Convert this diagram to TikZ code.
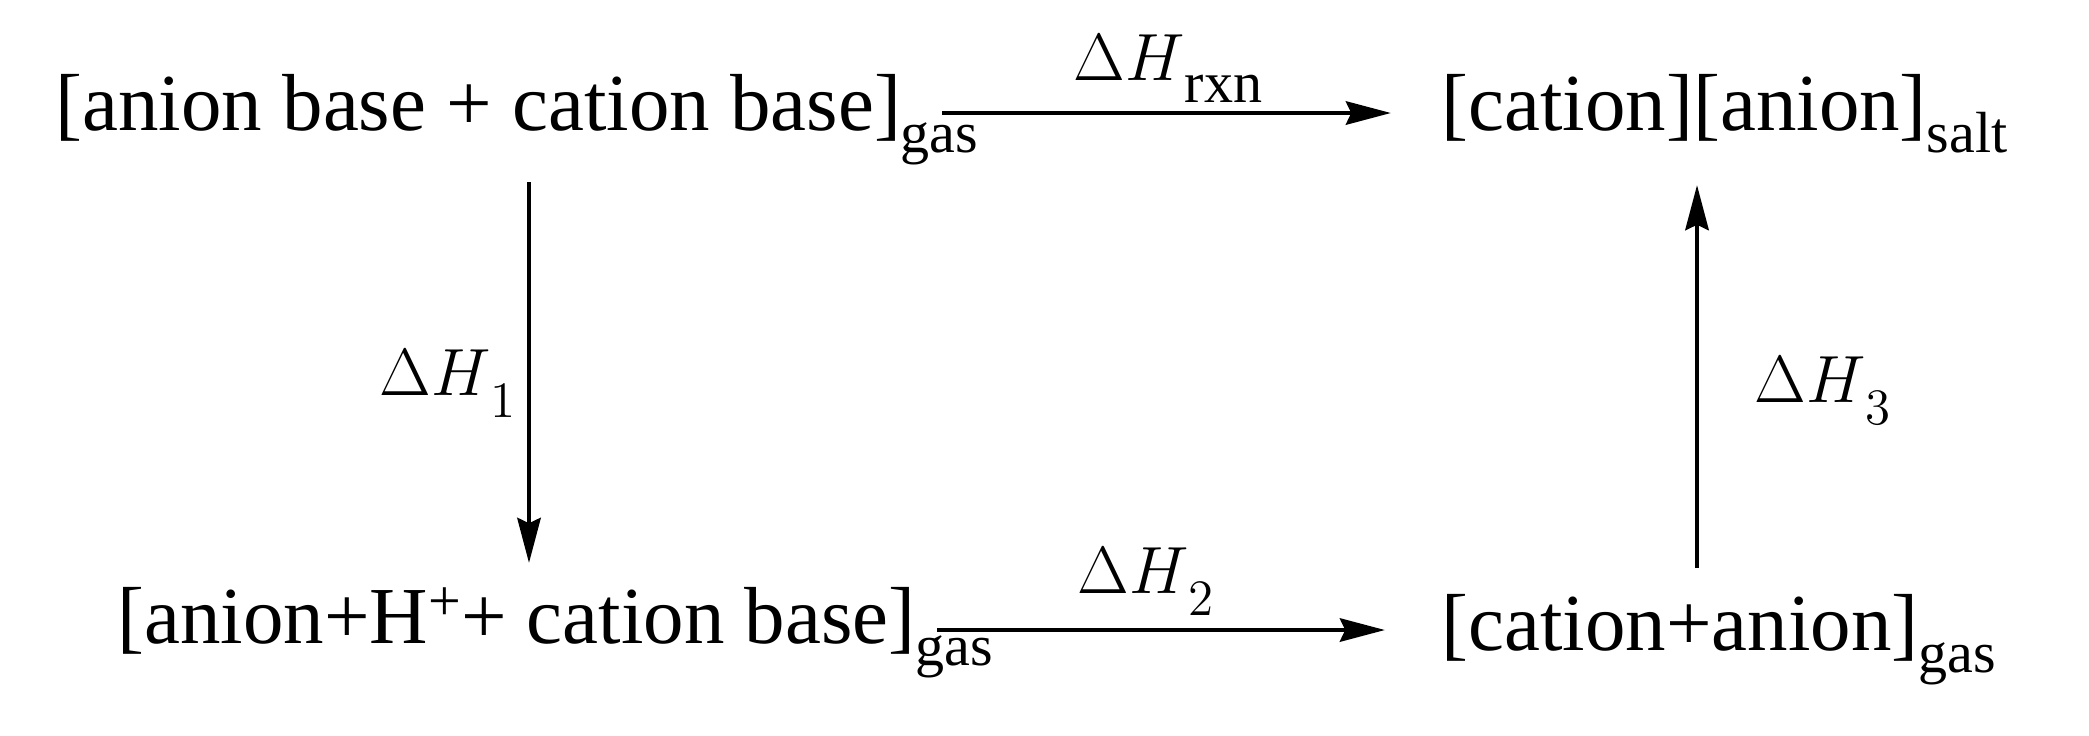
\RequirePackage{fix-cm}
\documentclass[tikz,border=0pt]{standalone}
\usepackage{fontspec}
\setmainfont{Liberation Serif}
\usetikzlibrary{arrows.meta,calc}
\newcommand\tsub[1]{\raisebox{-6.3pt}{\fontsize{16.5}{17}\selectfont #1}}
\newcommand\tsup[1]{\raisebox{6.5pt}{\fontsize{16.5}{17}\selectfont #1}}
\newcommand\msub[1]{\raisebox{-6.3pt}{\fontsize{14.5}{15}\selectfont$#1$}}
\tikzset{
  lbl/.style={anchor=base west, inner sep=0pt, font=\fontsize{23}{27}\selectfont},
  mlbl/.style={anchor=base west, inner sep=0pt, font=\fontsize{19}{23}\selectfont},
  arr/.style={line width=1.4pt, -{Stealth[length=12.8pt,width=6.6pt,inset=1.5pt]}}
}
\begin{document}
\begin{tikzpicture}[x=0.01cm,y=-0.01cm]
\useasboundingbox (0,0) rectangle (2089,735);
\node[lbl] (tl) at (55,130) {[anion base + cation base]\tsub{gas}};
\node[lbl] (tr) at (1441,130) {[cation][anion]\tsub{salt}};
\node[lbl] (bl) at (117,643) {[anion+H\tsup{+}+ cation base]\tsub{gas}};
\node[lbl] (br) at (1441,650) {[cation+anion]\tsub{gas}};
\node[mlbl] (h0) at (1073,80) {$\Delta H$\raisebox{-6.5pt}{\fontsize{16.5}{17}\selectfont rxn}};
\node[mlbl] (h1) at (379,395) {$\Delta H$\msub{1}};
\node[mlbl] (h2) at (1077,593) {$\Delta H$\msub{2}};
\node[mlbl] (h3) at (1754,402) {$\Delta H$\msub{3}};
\draw[arr] ($(tl.base west)+(887,-17)$) -- ($(tr.base west)+(-50,-17)$);
\draw[arr] ($(bl.base west)+(820,-13)$) -- ($(br.base west)+(-56,-20)$);
\draw[arr] ($(tl.base west)+(474,52)$) -- ($(bl.base west)+(412,-80)$);
\draw[arr] ($(br.base west)+(256,-82)$) -- ($(tr.base west)+(256,55)$);
\end{tikzpicture}
\end{document}
